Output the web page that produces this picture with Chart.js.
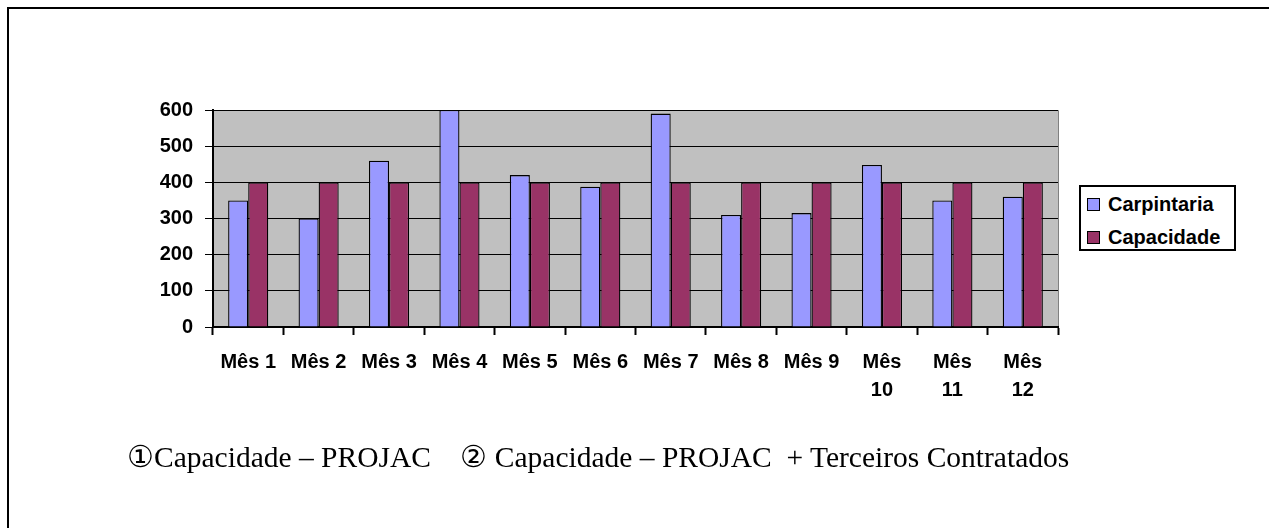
<!DOCTYPE html>
<html>
<head>
<meta charset="utf-8">
<script src="https://cdn.jsdelivr.net/npm/chart.js@4/dist/chart.umd.min.js"></script>
<style>
  html, body { margin: 0; padding: 0; background: #fff; }
  #wrap { position: relative; width: 1269px; height: 528px; overflow: hidden; }
  #frame { position: absolute; left: 7px; top: 7px; width: 1300px; height: 600px;
           border-left: 2px solid #000; border-top: 2px solid #000; }
  #chart { position: absolute; left: 0; top: 0; }
  #legend { position: absolute; left: 1079px; top: 185px; width: 153px; height: 62px;
            border: 2px solid #000; background: #fff;
            font: bold 20px "Liberation Sans", Arial, sans-serif; }
  .item { position: absolute; left: 6px; height: 22px; line-height: 22px; white-space: nowrap; }
  .sw { display: inline-block; width: 11px; height: 11px; border: 1px solid #000;
        vertical-align: 0px; margin-right: 8px; }
  #caption { position: absolute; left: 127px; top: 440px; white-space: nowrap; line-height: 30px;
             font: 29.5px "Liberation Serif", "Times New Roman", serif; color: #000; }
</style>
</head>
<body>
<div id="wrap">
  <div id="frame"></div>
  <canvas id="chart" width="1269" height="528"></canvas>
  <div id="legend"></div>
  <div id="caption">①Capacidade – PROJAC&nbsp;&nbsp;&nbsp;&nbsp;② Capacidade – PROJAC&nbsp;&nbsp;+ Terceiros Contratados</div>
</div>
<script>
const months = ['Mês 1', 'Mês 2', 'Mês 3', 'Mês 4', 'Mês 5', 'Mês 6', 'Mês 7', 'Mês 8', 'Mês 9',
    ['Mês', '10'], ['Mês', '11'], ['Mês', '12']];
const carpintaria = [350, 300, 460, 600, 420, 388, 590, 310, 315, 448, 350, 360];
const capacidade = [400, 400, 400, 400, 400, 400, 400, 400, 400, 400, 400, 400];
const yTicks = [0, 100, 200, 300, 400, 500, 600];

const seriesColors = ['#9999FF', '#993366'];

// gray plot area like the old Excel charts
const plotBackground = {
    id: 'plotBackground',
    beforeDraw(chart) {
        const { ctx, chartArea: a } = chart;
        ctx.save();
        ctx.fillStyle = '#C0C0C0';
        ctx.fillRect(a.left, a.top, a.right - a.left, a.bottom - a.top);
        ctx.strokeStyle = '#808080';
        ctx.lineWidth = 1;
        ctx.beginPath();
        ctx.moveTo(a.left, a.top + 0.5);
        ctx.lineTo(a.right + 0.5, a.top + 0.5);
        ctx.lineTo(a.right + 0.5, a.bottom);
        ctx.stroke();
        ctx.restore();
    }
};

const labelFont = { family: 'Liberation Sans, Arial, sans-serif', size: 20, weight: 'bold' };

const ctx = document.getElementById('chart').getContext('2d');
const chart = new Chart(ctx, {
    type: 'bar',
    data: {
        labels: months,
        datasets: [{
            label: 'Carpintaria',
            data: carpintaria,
            backgroundColor: seriesColors[0],
            borderColor: '#000',
            borderWidth: 1.3
        }, {
            label: 'Capacidade',
            data: capacidade,
            backgroundColor: seriesColors[1],
            borderColor: '#000',
            borderWidth: 1.3
        }]
    },
    options: {
        responsive: false,
        animation: false,
        layout: { padding: { left: 150, right: 211, top: 110, bottom: 100 } },
        datasets: { bar: { categoryPercentage: 0.57, barPercentage: 1 } },
        plugins: { legend: { display: false }, tooltip: { enabled: false } },
        scales: {
            x: {
                afterFit: s => { s.height = 101; },
                grid: { offset: true, drawOnChartArea: false, color: '#000', tickLength: 8, tickWidth: 2 },
                border: { color: '#000', width: 2 },
                ticks: {
                    color: '#000', padding: 13, maxRotation: 0, autoSkip: false,
                    font: { ...labelFont, lineHeight: 1.4 }
                }
            },
            y: {
                min: 0, max: 600,
                afterFit: s => { s.width = 63; },
                afterBuildTicks: s => { s.ticks = yTicks.map(v => ({ value: v })); },
                grid: { color: '#000', lineWidth: 1, tickLength: 8 },
                border: { color: '#000', width: 2 },
                ticks: { color: '#000', padding: 12, font: labelFont }
            }
        }
    },
    plugins: [plotBackground]
});

// legend box built from the datasets
const legend = document.getElementById('legend');
chart.data.datasets.forEach((ds, i) => {
    const item = document.createElement('div');
    item.className = 'item';
    item.style.top = (6 + i * 33) + 'px';
    item.innerHTML = '<span class="sw" style="background:' + ds.backgroundColor + '"></span>' + ds.label;
    legend.appendChild(item);
});
</script>
</body>
</html>
